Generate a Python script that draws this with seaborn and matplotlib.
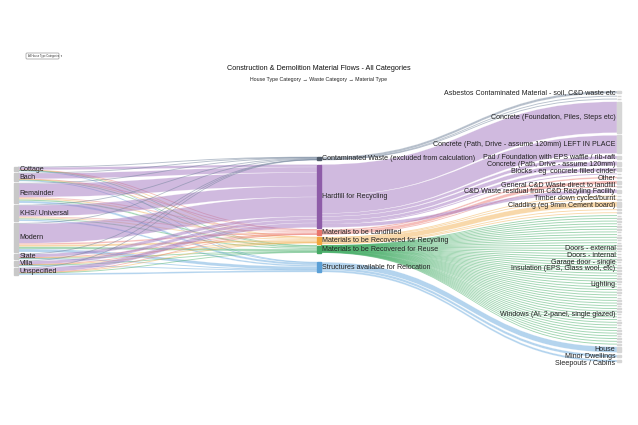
import seaborn as sns
import matplotlib.pyplot as plt
from matplotlib.path import Path
from matplotlib.patches import PathPatch, Rectangle, FancyBboxPatch

# --- data ---
house_types = ["Cottage", "Bach", "Remainder", "KHS/ Universal", "Modern",
               "State", "Villa", "Unspecified"]
waste_categories = ["Contaminated Waste (excluded from calculation)",
                    "Hardfill for Recycling",
                    "Materials to be Landfilled",
                    "Materials to be Recovered for Recycling",
                    "Materials to be Recovered for Reuse",
                    "Structures available for Relocation"]

# rows = house type, cols = waste category
house_to_waste = [
    [0.3, 2.5, 0.3, 0.3, 0.3, 0.3],
    [0.3, 5.5, 0.5, 0.5, 0.6, 0.6],
    [0.6, 13.5, 1.0, 1.3, 1.5, 2.1],
    [0.4, 11.0, 0.9, 1.0, 1.2, 1.5],
    [0.8, 19.5, 1.5, 2.0, 2.2, 3.0],
    [0.2, 3.3, 0.3, 0.4, 0.4, 0.4],
    [0.2, 3.2, 0.3, 0.3, 0.5, 0.5],
    [0.2, 4.5, 0.2, 0.2, 0.3, 1.6],
]

# material type nodes (None = small node without a visible label)
material_labels = [
    "Asbestos Contaminated Material - soil, C&D waste etc", None, None,
    "Concrete (Foundation, Piles, Steps etc)",
    "Concrete (Path, Drive - assume 120mm) LEFT IN PLACE",
    "Pad / Foundation with EPS waffle / rib-raft",
    "Concrete (Path, Drive - assume 120mm)",
    "Blocks - eg  concrete filled cinder", None,
    "Other", "General C&D Waste direct to landfill", None,
    "C&D Waste residual from C&D Recyling Facility",
    "Timber down cycled/burnt", None,
    "Cladding (eg 9mm Cement board)", None, None,
    # reuse items
    None, None, None, None, None, None, None, None, None, None, None, None,
    "Doors - external", None, "Doors - internal", None, None,
    "Garage door - single", None, "Insulation (EPS, Glass wool, etc)",
    None, None, None, None, None, "Lighting",
    None, None, None, None, None, None, None, None, None, None,
    "Windows (Al, 2-panel, single glazed)",
    None, None, None, None, None, None, None, None, None, None, None,
    # relocation
    "House", "Minor Dwellings", "Sleepouts / Cabins",
]
material_source = (
    [0, 0, 0] + [1, 1, 1, 1, 1, 1] + [2, 2, 2] + [1] + [3, 3, 3, 3, 3]
    + [4] * 48 + [5, 5, 5]
)
material_values = [
    2.4, 0.3, 0.3,
    31.0, 18.0, 3.0, 4.0, 3.0, 0.5,
    1.5, 3.0, 0.5,
    3.5,
    0.8, 0.3, 5.0, 0.4, 0.5,
    0.12, 0.16, 0.13, 0.12, 0.10, 0.12, 0.14, 0.11, 0.12, 0.13, 0.11, 0.12,
    0.30, 0.12, 0.28, 0.11, 0.12, 0.25, 0.12, 0.30,
    0.13, 0.11, 0.12, 0.12, 0.10, 0.32,
    0.12, 0.11, 0.13, 0.12, 0.12, 0.11, 0.12, 0.13, 0.11, 0.12,
    0.40,
    0.12, 0.11, 0.12, 0.13, 0.12, 0.11, 0.12, 0.12, 0.13, 0.23, 0.24,
    5.5, 2.5, 2.0,
]

title = "Construction & Demolition Material Flows - All Categories"
subtitle = "House Type Category \u2192 Waste Category \u2192 Material Type"

node_colors = ["#4f5a68", "#8e5ca8", "#e8736b", "#f0a63c", "#45a864", "#5a9fd6"]
link_colors = ["#6f8199", "#a376c0", "#ec7d75", "#f3b356", "#4fb26f", "#6aaade"]

# --- layout (pixel space) ---
sns.set_theme(style="white")
plt.rcParams["font.family"] = ["Liberation Sans", "DejaVu Sans"]

fig = plt.figure(figsize=(6.38, 4.25), dpi=100)
ax = fig.add_axes([0, 0, 1, 1])
ax.set_xlim(0, 638)
ax.set_ylim(425, 0)
ax.axis("off")

NODE_W = 4
X_LEFT, X_MID, X_RIGHT = 14, 317, 617
MIN_W = 0.9

left_vals = [sum(r) for r in house_to_waste]
mid_in = [sum(r[j] for r in house_to_waste) for j in range(len(waste_categories))]
mid_out = [0.0] * len(waste_categories)
for s, v in zip(material_source, material_values):
    mid_out[s] += v
mid_vals = [max(a, b) for a, b in zip(mid_in, mid_out)]


def stack(values, top, gaps):
    pos, y = [], top
    for i, v in enumerate(values):
        pos.append((y, y + v))
        if i < len(gaps):
            y += v + gaps[i]
    return pos


left_pos = stack(left_vals, 167, [2] * 7)
mid_pos = stack(mid_vals, 157, [4.5, 2, 2.5, 1.5, 9.5])
n_right = len(material_values)
pad_r = (362 - 91 - sum(material_values)) / (n_right - 1)
right_pos = stack(material_values, 91, [pad_r] * (n_right - 1))


def band(x0, y0a, y0b, x1, y1a, y1b, color, alpha=0.5):
    # thin links keep a minimum visible width, like stroked svg links
    w = y0b - y0a
    if w < MIN_W:
        c0, c1 = (y0a + y0b) / 2, (y1a + y1b) / 2
        y0a, y0b = c0 - MIN_W / 2, c0 + MIN_W / 2
        y1a, y1b = c1 - MIN_W / 2, c1 + MIN_W / 2
        ec, lw = "none", 0
    else:
        ec, lw = "white", 0.25
    xm = (x0 + x1) / 2
    verts = [(x0, y0a), (xm, y0a), (xm, y1a), (x1, y1a),
             (x1, y1b), (xm, y1b), (xm, y0b), (x0, y0b), (x0, y0a)]
    codes = [Path.MOVETO, Path.CURVE4, Path.CURVE4, Path.CURVE4,
             Path.LINETO, Path.CURVE4, Path.CURVE4, Path.CURVE4, Path.CLOSEPOLY]
    ax.add_patch(PathPatch(Path(verts, codes), facecolor=color, alpha=alpha,
                           edgecolor=ec, lw=lw, zorder=1))


# house type -> waste category
mid_in_off = [p[0] for p in mid_pos]
for i, row in enumerate(house_to_waste):
    y_out = left_pos[i][0]
    for j, v in enumerate(row):
        band(X_LEFT + NODE_W, y_out, y_out + v, X_MID,
             mid_in_off[j], mid_in_off[j] + v, link_colors[j])
        y_out += v
        mid_in_off[j] += v

# waste category -> material
mid_out_off = [p[0] for p in mid_pos]
for k, (s, v) in enumerate(zip(material_source, material_values)):
    ya, yb = right_pos[k]
    band(X_MID + NODE_W, mid_out_off[s], mid_out_off[s] + v, X_RIGHT, ya, yb,
         link_colors[s], alpha=0.55 if s == 4 else 0.5)
    mid_out_off[s] += v

# nodes
for (a, b) in left_pos:
    ax.add_patch(Rectangle((X_LEFT, a), NODE_W, b - a, color="#c8c8c8", zorder=3))
for j, (a, b) in enumerate(mid_pos):
    ax.add_patch(Rectangle((X_MID, a), NODE_W, b - a, color=node_colors[j], zorder=3))
for (a, b) in right_pos:
    ax.add_patch(Rectangle((X_RIGHT, a), NODE_W, max(b - a, 0.5),
                           color="#d6d6d6", zorder=3))

FS = 5.1
for name, (a, b) in zip(house_types, left_pos):
    ax.text(X_LEFT + NODE_W + 1.5, (a + b) / 2, name, fontsize=FS, color="#222222",
            va="center", ha="left", zorder=4)
for name, (a, b) in zip(waste_categories, mid_pos):
    ax.text(X_MID + NODE_W + 1.5, (a + b) / 2, name, fontsize=FS, color="#222222",
            va="center", ha="left", zorder=4)

# right labels, nudged down so they do not overlap
last = -100
for name, (a, b) in zip(material_labels, right_pos):
    if name is None:
        continue
    y = max((a + b) / 2, last + 6.9)
    last = y
    ax.text(X_RIGHT - 1.5, y, name, fontsize=FS, color="#222222",
            va="center", ha="right", zorder=4)

ax.text(319, 68, title, fontsize=5.2, ha="center", va="center", color="#111111")
ax.text(319, 79, subtitle, fontsize=3.8, ha="center", va="center", color="#222222")

# category dropdown
ax.add_patch(FancyBboxPatch((26, 53), 33, 6, boxstyle="round,pad=0,rounding_size=1",
                            facecolor="white", edgecolor="#999999", lw=0.5))
ax.text(28, 56, "All House Type Categories  \u25be", fontsize=1.9, va="center",
        ha="left", color="#333333")

fig.savefig("out.png", dpi=100)
